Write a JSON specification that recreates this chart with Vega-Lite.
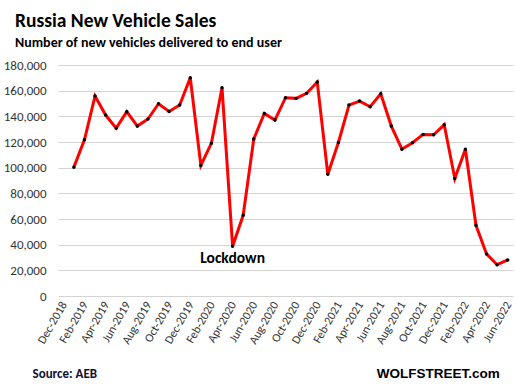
{
  "$schema": "https://vega.github.io/schema/vega-lite/v6.json",
  "width": 455,
  "height": 231,
  "autosize": "none",
  "padding": {"left": 58, "top": 65, "right": 3, "bottom": 92},
  "background": "white",
  "config": {
    "font": "Carlito, Lato, sans-serif",
    "view": {"stroke": null},
    "axisY": {
      "values": [0,20000,40000,60000,80000,100000,120000,140000,160000,180000],
      "labelExpr": "datum.value == 0 ? '0' : floor(datum.value / 1000) + ',000'",
      "labelOverlap": false,
      "labelFontSize": 13,
      "labelColor": "#333333",
      "labelPadding": 12,
      "ticks": false,
      "domain": false,
      "grid": true,
      "gridColor": "#d4d4d4",
      "gridWidth": 1,
      "title": null
    }
  },
  "title": {
    "text": "Russia New Vehicle Sales",
    "subtitle": "Number of  new vehicles delivered to end user",
    "anchor": "start",
    "frame": "group",
    "dx": -43,
    "offset": 8,
    "font": "Carlito, Lato, sans-serif",
    "fontSize": 19.5,
    "fontWeight": "bold",
    "color": "#000000",
    "subtitleFont": "Carlito, Lato, sans-serif",
    "subtitleFontSize": 14,
    "subtitleFontWeight": "bold",
    "subtitleColor": "#000000",
    "subtitlePadding": 5
  },
  "layer": [
    {
      "data": {
        "values": [
          {"month": "Jan-2019", "sales": 100400},
          {"month": "Feb-2019", "sales": 121700},
          {"month": "Mar-2019", "sales": 155800},
          {"month": "Apr-2019", "sales": 141000},
          {"month": "May-2019", "sales": 130800},
          {"month": "Jun-2019", "sales": 143600},
          {"month": "Jul-2019", "sales": 132400},
          {"month": "Aug-2019", "sales": 137900},
          {"month": "Sep-2019", "sales": 149800},
          {"month": "Oct-2019", "sales": 143800},
          {"month": "Nov-2019", "sales": 148800},
          {"month": "Dec-2019", "sales": 170100},
          {"month": "Jan-2020", "sales": 101700},
          {"month": "Feb-2020", "sales": 119100},
          {"month": "Mar-2020", "sales": 162300},
          {"month": "Apr-2020", "sales": 38800},
          {"month": "May-2020", "sales": 62900},
          {"month": "Jun-2020", "sales": 122300},
          {"month": "Jul-2020", "sales": 142300},
          {"month": "Aug-2020", "sales": 137100},
          {"month": "Sep-2020", "sales": 154500},
          {"month": "Oct-2020", "sales": 154000},
          {"month": "Nov-2020", "sales": 157900},
          {"month": "Dec-2020", "sales": 166700},
          {"month": "Jan-2021", "sales": 94900},
          {"month": "Feb-2021", "sales": 119600},
          {"month": "Mar-2021", "sales": 148800},
          {"month": "Apr-2021", "sales": 151900},
          {"month": "May-2021", "sales": 147500},
          {"month": "Jun-2021", "sales": 157600},
          {"month": "Jul-2021", "sales": 132400},
          {"month": "Aug-2021", "sales": 114400},
          {"month": "Sep-2021", "sales": 119400},
          {"month": "Oct-2021", "sales": 125900},
          {"month": "Nov-2021", "sales": 125600},
          {"month": "Dec-2021", "sales": 133400},
          {"month": "Jan-2022", "sales": 91600},
          {"month": "Feb-2022", "sales": 114400},
          {"month": "Mar-2022", "sales": 55100},
          {"month": "Apr-2022", "sales": 32800},
          {"month": "May-2022", "sales": 24400},
          {"month": "Jun-2022", "sales": 28100}
        ]
      },
      "encoding": {
        "x": {
          "field": "month",
          "type": "ordinal",
          "sort": null,
          "scale": {
            "type": "point",
            "padding": 0.5,
            "domain": ["Dec-2018","Jan-2019","Feb-2019","Mar-2019","Apr-2019","May-2019","Jun-2019","Jul-2019","Aug-2019","Sep-2019","Oct-2019","Nov-2019","Dec-2019","Jan-2020","Feb-2020","Mar-2020","Apr-2020","May-2020","Jun-2020","Jul-2020","Aug-2020","Sep-2020","Oct-2020","Nov-2020","Dec-2020","Jan-2021","Feb-2021","Mar-2021","Apr-2021","May-2021","Jun-2021","Jul-2021","Aug-2021","Sep-2021","Oct-2021","Nov-2021","Dec-2021","Jan-2022","Feb-2022","Mar-2022","Apr-2022","May-2022","Jun-2022"]
          },
          "axis": {
            "values": ["Dec-2018","Feb-2019","Apr-2019","Jun-2019","Aug-2019","Oct-2019","Dec-2019","Feb-2020","Apr-2020","Jun-2020","Aug-2020","Oct-2020","Dec-2020","Feb-2021","Apr-2021","Jun-2021","Aug-2021","Oct-2021","Dec-2021","Feb-2022","Apr-2022","Jun-2022"],
            "labelAngle": -60,
            "labelFontSize": 12,
            "labelColor": "#333333",
            "labelPadding": 6,
            "labelOverlap": false,
            "ticks": false,
            "domain": false,
            "grid": false,
            "title": "Source: AEB",
            "titleAnchor": "start",
            "titleAlign": "left",
            "titleX": -26,
            "titleY": 81,
            "titleBaseline": "alphabetic",
            "titleFontSize": 13,
            "titleFontWeight": "bold",
            "titleColor": "#111133"
          }
        },
        "y": {
          "field": "sales",
          "type": "quantitative",
          "scale": {"domain": [0, 180000], "nice": false}
        }
      },
      "layer": [
        {"mark": {"type": "line", "color": "#ff0000", "strokeWidth": 3}},
        {"mark": {"type": "circle", "color": "#000000", "size": 12, "opacity": 1}}
      ]
    },
    {
      "data": {"values": [{"label": "Lockdown"}]},
      "mark": {"type": "text", "fontSize": 15.5, "fontWeight": "bold", "color": "#000000", "align": "center", "baseline": "alphabetic"},
      "encoding": {
        "x": {"datum": "Apr-2020"},
        "y": {"datum": 25700, "type": "quantitative"},
        "text": {"field": "label"}
      }
    },
    {
      "data": {"values": [{"label": "WOLFSTREET.com"}]},
      "mark": {"type": "text", "font": "Liberation Sans, Arial, sans-serif", "fontSize": 13.5, "fontWeight": "bold", "color": "#000000", "align": "right", "baseline": "alphabetic", "dx": -8, "clip": false},
      "encoding": {
        "x": {"datum": "Jun-2022"},
        "y": {"datum": -63900, "type": "quantitative"},
        "text": {"field": "label"}
      }
    }
  ]
}
